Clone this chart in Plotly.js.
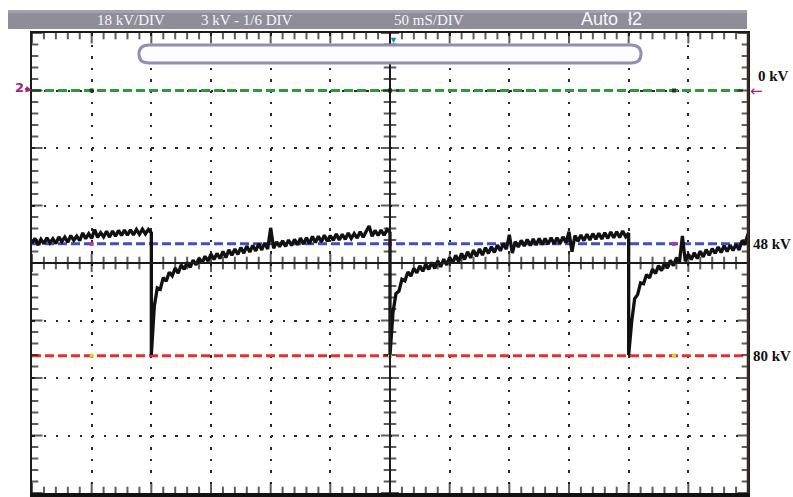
<!DOCTYPE html>
<html>
<head>
<meta charset="utf-8">
<script src="https://cdn.plot.ly/plotly-3.0.1.min.js"></script>
<style>html,body{margin:0;padding:0;background:#ffffff;}</style>
</head>
<body>
<div id="chart"></div>
<script>
// ---- data (kV, magnitude; time in ms) ----
const sampleStepMs = 2.5;
const segmentStartMs = [0, 100, 300, 500];
const segA = [47.9, 46.3, 48.4, 46.6, 48.0, 46.1, 47.7, 46.4, 47.9, 45.8,
  47.3, 45.9, 47.5, 45.4, 46.9, 45.6, 47.0, 44.6, 46.4, 44.8,
  46.3, 43.5, 46.0, 44.5, 45.8, 44.1, 45.9, 44.0, 45.6, 43.8,
  45.4, 43.7, 45.3, 43.6, 45.2, 43.5, 45.0, 43.4, 44.9, 43.5,
  44.6];
const segB = [82.8, 67.5, 61.8, 62.2, 58.6, 59.7, 56.9, 58.0, 55.6, 57.2,
  54.6, 56.0, 53.8, 55.4, 53.1, 54.6, 52.5, 54.0, 51.9, 53.4,
  51.2, 52.9, 51.0, 52.6, 50.4, 52.3, 49.9, 51.6, 49.6, 51.3,
  49.2, 50.9, 48.7, 50.6, 48.5, 50.2, 48.0, 49.9, 47.7, 49.6,
  43.0, 49.4, 47.4, 48.9, 47.0, 48.8, 46.8, 48.5, 46.6, 48.3,
  46.2, 48.1, 46.1, 47.9, 45.7, 47.6, 45.6, 47.4, 45.3, 47.2,
  45.4, 46.9, 44.9, 46.8, 45.0, 46.6, 44.6, 46.3, 44.8, 46.2,
  44.2, 45.9, 44.3, 42.4, 45.6, 43.8, 45.4, 43.7, 45.3, 43.6,
  44.5];
const segC = [82.8, 69.5, 63.6, 62.8, 59.1, 59.6, 56.8, 58.1, 55.7, 57.1,
  54.9, 56.6, 54.3, 56.0, 53.8, 55.7, 53.3, 55.2, 52.8, 54.6,
  52.2, 54.1, 51.6, 53.5, 51.0, 52.9, 50.5, 52.4, 50.0, 51.9,
  49.6, 51.5, 49.2, 51.0, 48.9, 50.7, 48.4, 50.2, 47.9, 49.7,
  45.2, 50.9, 47.3, 49.0, 46.9, 48.7, 46.6, 48.5, 46.5, 48.4,
  46.3, 48.2, 46.3, 48.1, 46.1, 48.0, 46.1, 47.9, 45.8, 47.7,
  44.2, 50.5, 45.4, 47.2, 45.2, 47.0, 45.0, 46.8, 44.8, 46.6,
  44.7, 46.5, 44.5, 46.3, 44.3, 46.1, 44.2, 46.0, 44.0, 45.8,
  44.6];
const segD = [82.8, 72.5, 65.2, 63.9, 60.2, 60.5, 57.6, 58.7, 55.9, 57.3,
  54.8, 56.4, 54.0, 55.6, 53.2, 54.8, 52.4, 54.0, 45.5, 53.5,
  51.2, 52.9, 50.8, 52.6, 50.3, 52.1, 49.8, 51.6, 49.5, 51.0,
  49.0, 50.7, 48.6, 50.4, 48.4, 50.1, 48.1, 49.9, 47.0, 48.3,
  44.8];
const refLevels = [0, 48, 83];            // green, blue, red cursor lines (kV)
const refLabels = ['0 kV', '48 kV', '80 kV'];
const markerTimes = [50, 300, 538];       // small cursor dots on the lines (ms)
const headerTexts = ['18 kV/DIV', '3 kV - 1/6 DIV', '50 mS/DIV'];
const modeText = 'Auto  ł2';
const timeRange = [0, 600];               // 12 div x 50 ms
const voltRange = [126, -18];             // 8 div x 18 kV
const timeDiv = 50, voltDiv = 18, subDivs = 5;

// ---- build the trace ----
const segments = [segA, segB, segC, segD];
const tx = [], vy = [];
segments.forEach((seg, s) => {
  seg.forEach((v, i) => { tx.push(segmentStartMs[s] + i * sampleStepMs); vy.push(v); });
});

const ink = '#1a1a1a';
const refColors = ['#2f9a3c', '#3d4fc4', '#e3302c'];
const markerColors = ['#1d3a1d', '#c0329e', '#d8d02a'];

// graticule tick marks, generated from the axis division settings
const tMin = timeRange[0], tMax = timeRange[1], tMid = (tMin + tMax) / 2;
const vTop = voltRange[1], vBot = voltRange[0], vMid = (vTop + vBot) / 2;
const gx = [], gy = [], gs = [];
const nT = Math.round((tMax - tMin) / timeDiv) * subDivs;
for (let i = 0; i <= nT; i++) {
  const t = tMin + i * timeDiv / subDivs, major = i % subDivs === 0;
  gx.push(t, t, t); gy.push(vTop, vBot, vMid); gs.push(major ? 15 : 9, major ? 15 : 9, major ? 13 : 9);
}
const hx = [], hy = [], hs = [];
const nV = Math.round((vBot - vTop) / voltDiv) * subDivs;
for (let i = 0; i <= nV; i++) {
  const v = vTop + i * voltDiv / subDivs, major = i % subDivs === 0;
  hx.push(tMin, tMax, tMid); hy.push(v, v, v); hs.push(major ? 15 : 9, major ? 15 : 9, major ? 13 : 9);
}

const traces = [];
refLevels.forEach((lv, k) => {
  traces.push({x: timeRange, y: [lv, lv], mode: 'lines', xaxis: 'x', yaxis: 'y',
    line: {color: refColors[k], width: 3, dash: '9px,4px'}, hoverinfo: 'skip'});
});
traces.push({x: gx, y: gy, mode: 'markers', xaxis: 'x', yaxis: 'y', hoverinfo: 'skip',
  marker: {symbol: 'line-ns', size: gs, color: ink, line: {color: ink, width: 2}}});
traces.push({x: hx, y: hy, mode: 'markers', xaxis: 'x', yaxis: 'y', hoverinfo: 'skip',
  marker: {symbol: 'line-ew', size: hs, color: ink, line: {color: ink, width: 2}}});
const mx = [], my = [], mc = [];
refLevels.forEach((lv, k) => markerTimes.forEach(t => { mx.push(t); my.push(lv); mc.push(markerColors[k]); }));
traces.push({x: mx, y: my, mode: 'markers', xaxis: 'x2', yaxis: 'y2',
  marker: {symbol: 'square', size: 4, color: mc}, hoverinfo: 'skip'});
traces.push({x: tx, y: vy, mode: 'lines', xaxis: 'x2', yaxis: 'y2',
  line: {color: '#111111', width: 3.3}, hoverinfo: 'skip'});

const baseX = {range: timeRange, dtick: timeDiv, tick0: 0, showticklabels: false, zeroline: false, ticks: ''};
const baseY = {range: voltRange, dtick: voltDiv, tick0: 0, showticklabels: false, zeroline: false, ticks: ''};

// pixel -> paper helpers for decorations only
const L = 32, R = 748, T = 33, B = 493;
const px = v => (v - L) / (R - L);
const py = v => (B - v) / (B - T);

const serif = 'Liberation Serif, DejaVu Serif, serif';
const layout = {
  width: 793, height: 497,
  margin: {l: L, r: 793 - R, t: T, b: 497 - B, pad: 0},
  showlegend: false,
  xaxis: Object.assign({}, baseX, {showline: true, linecolor: ink, linewidth: 2, mirror: true,
    showgrid: true, gridcolor: '#2a2a2a', gridwidth: 2, griddash: '2.5px,9px'}),
  yaxis: Object.assign({}, baseY, {showline: true, linecolor: ink, linewidth: 2, mirror: true,
    showgrid: true, gridcolor: '#2a2a2a', gridwidth: 2, griddash: '2.5px,9.43px'}),
  xaxis2: Object.assign({}, baseX, {anchor: 'free', position: 0.5, overlaying: 'x',
    showline: true, linecolor: ink, linewidth: 2, showgrid: false}),
  yaxis2: Object.assign({}, baseY, {anchor: 'free', position: 0.5, overlaying: 'y',
    showline: true, linecolor: ink, linewidth: 2, showgrid: false}),
  shapes: [
    {type: 'rect', xref: 'paper', yref: 'paper', x0: px(8), x1: px(747), y0: py(29), y1: py(10),
      fillcolor: '#8e8d98', line: {width: 0}, layer: 'above'},
    {type: 'rect', xref: 'paper', yref: 'paper', x0: px(8), x1: px(747), y0: py(13), y1: py(10),
      fillcolor: '#a3a2ac', line: {width: 0}, layer: 'above'},
    {type: 'path', xref: 'paper', yref: 'paper', layer: 'above',
      path: `M ${px(149)},${py(45)} L ${px(631)},${py(45)} Q ${px(641)},${py(45)} ${px(641)},${py(54)} Q ${px(641)},${py(63)} ${px(631)},${py(63)} L ${px(149)},${py(63)} Q ${px(139)},${py(63)} ${px(139)},${py(54)} Q ${px(139)},${py(45)} ${px(149)},${py(45)} Z`,
      fillcolor: '#fdfdff', line: {color: '#958db3', width: 3}},
    {type: 'line', xref: 'paper', yref: 'paper', x0: px(30), x1: px(750), y0: py(495), y1: py(495),
      line: {color: '#111', width: 4}, layer: 'above'},
    {type: 'line', xref: 'paper', yref: 'paper', x0: 1, x1: 1, y0: 0, y1: 1,
      line: {color: '#3b2a1c', width: 2.5}, layer: 'above'}
  ],
  annotations: [
    ...headerTexts.map((t, i) => ({text: t, xref: 'paper', yref: 'paper', x: px([131, 247, 429][i]), y: py(20),
      xanchor: 'center', yanchor: 'middle', showarrow: false,
      font: {family: serif, size: 15, color: '#f6f6fa'}})),
    {text: modeText, xref: 'paper', yref: 'paper', x: px(611), y: py(19), xanchor: 'center', yanchor: 'middle',
      showarrow: false, font: {family: 'Liberation Sans, Arial, sans-serif', size: 18, color: '#f6f6fa'}},
    {text: '▼', xref: 'paper', yref: 'paper', x: px(393), y: py(39), xanchor: 'center', yanchor: 'middle',
      showarrow: false, font: {size: 9, color: '#1e8c9c'}},
    ...refLevels.map((lv, k) => ({text: '<b>' + refLabels[k] + '</b>', xref: 'paper', yref: 'y', x: px(k === 0 ? 756 : 751), y: lv,
      yshift: k === 0 ? 15 : 0, xanchor: 'left', yanchor: 'middle', showarrow: false,
      font: {family: serif, size: 15, color: '#111'}})),
    {text: '←', xref: 'paper', yref: 'y', x: px(748), y: 0, xanchor: 'left', yanchor: 'middle', showarrow: false,
      font: {family: 'DejaVu Sans', size: 15, color: '#a3207c'}},
    {text: '<b>2</b>', xref: 'paper', yref: 'y', x: 0, y: 0, ax: -13, ay: -3, showarrow: true,
      arrowhead: 2, arrowsize: 0.7, arrowwidth: 1.8, arrowcolor: '#a3207c',
      font: {family: 'DejaVu Sans', size: 13, color: '#a3207c'}}
  ]
};

Plotly.newPlot('chart', traces, layout, {staticPlot: true});
</script>
</body>
</html>
